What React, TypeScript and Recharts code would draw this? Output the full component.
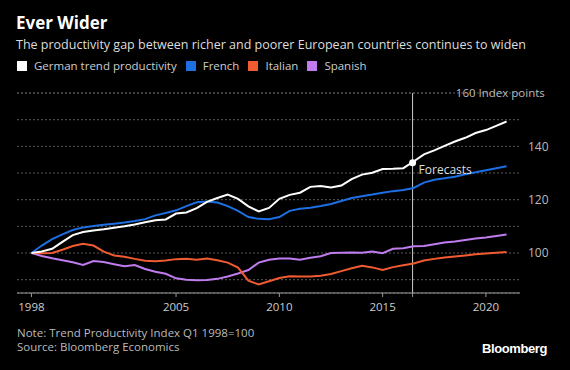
import React from "react";
import {
  LineChart,
  Line,
  XAxis,
  YAxis,
  CartesianGrid,
  ReferenceLine,
  ReferenceDot,
} from "recharts";

// half-year steps, Q1 1998 = 100
const periods = [
  1998, 1998.5, 1999, 1999.5, 2000, 2000.5, 2001, 2001.5, 2002, 2002.5,
  2003, 2003.5, 2004, 2004.5, 2005, 2005.5, 2006, 2006.5, 2007, 2007.5,
  2008, 2008.5, 2009, 2009.5, 2010, 2010.5, 2011, 2011.5, 2012, 2012.5,
  2013, 2013.5, 2014, 2014.5, 2015, 2015.5, 2016, 2016.5, 2017, 2017.5,
  2018, 2018.5, 2019, 2019.5, 2020, 2020.5, 2021,
];

const german = [
  100, 100.6, 101.6, 104.2, 106.7, 107.9, 108.4, 108.9, 109.5, 110.0,
  110.7, 111.5, 112.3, 112.6, 114.8, 115.2, 116.8, 119.2, 120.6, 121.9,
  120.3, 117.5, 115.6, 116.9, 120.3, 121.8, 122.6, 124.8, 125.1, 124.6,
  125.3, 127.7, 129.4, 130.1, 131.5, 131.6, 131.8, 134.3, 137.0, 138.5,
  140.2, 141.8, 143.2, 145.0, 146.1, 147.7, 149.3,
];

const french = [
  100, 102.8, 105.2, 107.0, 108.6, 109.6, 110.1, 110.6, 111.0, 111.4,
  112.0, 112.7, 114.1, 115.0, 116.0, 117.6, 119.0, 119.3, 118.9, 117.6,
  115.8, 113.5, 112.8, 112.7, 113.5, 115.8, 116.6, 117.0, 117.6, 118.4,
  119.5, 120.6, 121.3, 121.9, 122.6, 123.2, 123.6, 124.4, 126.4, 127.5,
  128.0, 128.6, 129.5, 130.3, 131.0, 131.8, 132.5,
];

const italian = [
  100, 99.9, 100.0, 101.2, 102.6, 103.5, 102.8, 100.5, 99.1, 98.6,
  97.8, 97.1, 96.9, 97.2, 97.7, 97.8, 97.5, 97.9, 97.3, 96.4,
  94.5, 89.6, 88.2, 89.4, 90.6, 91.3, 91.2, 91.2, 91.5, 92.1,
  93.2, 94.3, 95.2, 94.6, 93.6, 94.7, 95.4, 96.1, 97.2, 97.8,
  98.3, 98.7, 99.1, 99.5, 99.8, 100.1, 100.4,
];

const spanish = [
  100, 98.9, 98.0, 97.3, 96.5, 95.5, 97.0, 96.6, 95.8, 95.0,
  95.5, 94.0, 93.0, 92.2, 90.5, 90.0, 89.8, 89.9, 90.3, 91.2,
  92.3, 93.6, 96.4, 97.5, 97.9, 97.9, 97.5, 98.2, 98.8, 100.0,
  100.1, 100.2, 100.1, 100.6, 99.9, 101.6, 101.8, 102.5, 102.6, 103.3,
  103.9, 104.3, 104.9, 105.4, 105.8, 106.4, 106.9,
];

const xTicks = [1998, 2005, 2010, 2015, 2020];
const yTicks = [90, 100, 110, 120, 130, 140, 150];
const forecastStart = 2016.45;
const forecastValue = 133.8;

const series = [
  { key: "german", name: "German trend productivity", color: "#ffffff" },
  { key: "french", name: "French", color: "#1d6fe3" },
  { key: "italian", name: "Italian", color: "#f15b31" },
  { key: "spanish", name: "Spanish", color: "#c07cef" },
];

const data = periods.map((t, i) => ({
  t,
  german: german[i],
  french: french[i],
  italian: italian[i],
  spanish: spanish[i],
}));

const FONT = "'Open Sans', 'Noto Sans', sans-serif";

export default function App() {
  return (
    <div
      style={{
        position: "fixed",
        top: 0,
        left: 0,
        width: 570,
        height: 370,
        background: "#000",
        fontFamily: FONT,
        overflow: "hidden",
      }}
    >
      <div
        style={{
          position: "absolute",
          left: 16,
          top: 11,
          color: "#fff",
          fontSize: 17,
          fontWeight: 700,
        }}
      >
        Ever Wider
      </div>
      <div
        style={{
          position: "absolute",
          left: 16,
          top: 36,
          color: "#ddd",
          fontSize: 12.5,
          whiteSpace: "nowrap",
        }}
      >
        The productivity gap between richer and poorer European countries continues to widen
      </div>
      <div
        style={{
          position: "absolute",
          left: 17,
          top: 58,
          display: "flex",
          alignItems: "center",
          color: "#ccc",
          fontSize: 11.5,
          whiteSpace: "nowrap",
        }}
      >
        {series.map((s) => (
          <span
            key={s.key}
            style={{ display: "flex", alignItems: "center", marginRight: 9 }}
          >
            <span
              style={{
                width: 10,
                height: 10,
                background: s.color,
                marginRight: 7,
                display: "inline-block",
              }}
            />
            {s.name}
          </span>
        ))}
      </div>

      <div style={{ position: "absolute", left: 0, top: 0 }}>
        <LineChart
          width={570}
          height={370}
          data={data}
          margin={{ top: 93, right: 0, left: 17, bottom: 47 }}
        >
          <CartesianGrid
            vertical={false}
            stroke="#5a5a5a"
            strokeDasharray="2 2"
          />
          <XAxis
            dataKey="t"
            type="number"
            domain={[1997.3, 2021.65]}
            ticks={[...xTicks, forecastStart]}
            interval={0}
            tickFormatter={(v) => (xTicks.includes(v) ? String(v) : "")}
            height={30}
            stroke="#999"
            tickSize={4}
            tickMargin={6}
            tick={{ fill: "#ccc", fontSize: 11.5, fontFamily: FONT }}
          />
          <YAxis
            orientation="right"
            type="number"
            domain={[85, 160]}
            ticks={yTicks}
            interval={0}
            tickFormatter={(v) => (v % 20 === 0 ? String(v) : "")}
            width={50}
            axisLine={false}
            tickLine={false}
            tickSize={0}
            tickMargin={8}
            tick={{ fill: "#bbb", fontSize: 12, fontFamily: FONT, textAnchor: "start" }}
          />
          <ReferenceLine
            segment={[
              { x: 1997.3, y: 160 },
              { x: 2018.4, y: 160 },
            ]}
            stroke="#5a5a5a"
            strokeDasharray="2 2"
            label={{
              value: "160 Index points",
              position: "right",
              offset: 3,
              fill: "#bbb",
              fontSize: 11.5,
              fontFamily: FONT,
            }}
          />
          <ReferenceLine
            x={forecastStart}
            stroke="#ccc"
            strokeWidth={1}
            label={{
              value: "Forecasts",
              position: "insideTopLeft",
              offset: 0,
              dx: 6,
              dy: 72,
              fill: "#ddd",
              fontSize: 12,
              fontFamily: FONT,
            }}
          />
          {series
            .slice()
            .reverse()
            .map((s) => (
              <Line
                key={s.key}
                type="linear"
                dataKey={s.key}
                name={s.name}
                stroke={s.color}
                strokeWidth={2}
                dot={false}
                isAnimationActive={false}
              />
            ))}
          <ReferenceDot
            x={forecastStart}
            y={forecastValue}
            r={3.5}
            fill="#fff"
            stroke="none"
          />
        </LineChart>
      </div>

      <div
        style={{
          position: "absolute",
          left: 17,
          top: 326,
          color: "#bbb",
          fontSize: 11.5,
          lineHeight: "14px",
          whiteSpace: "nowrap",
        }}
      >
        <div>Note: Trend Productivity Index Q1 1998=100</div>
        <div>Source: Bloomberg Economics</div>
      </div>
      <div
        style={{
          position: "absolute",
          left: 482,
          top: 341,
          color: "#fff",
          fontSize: 13,
          fontWeight: 800,
          letterSpacing: -0.4,
          fontFamily: "'Liberation Sans', Arial, sans-serif",
        }}
      >
        Bloomberg
      </div>
    </div>
  );
}
